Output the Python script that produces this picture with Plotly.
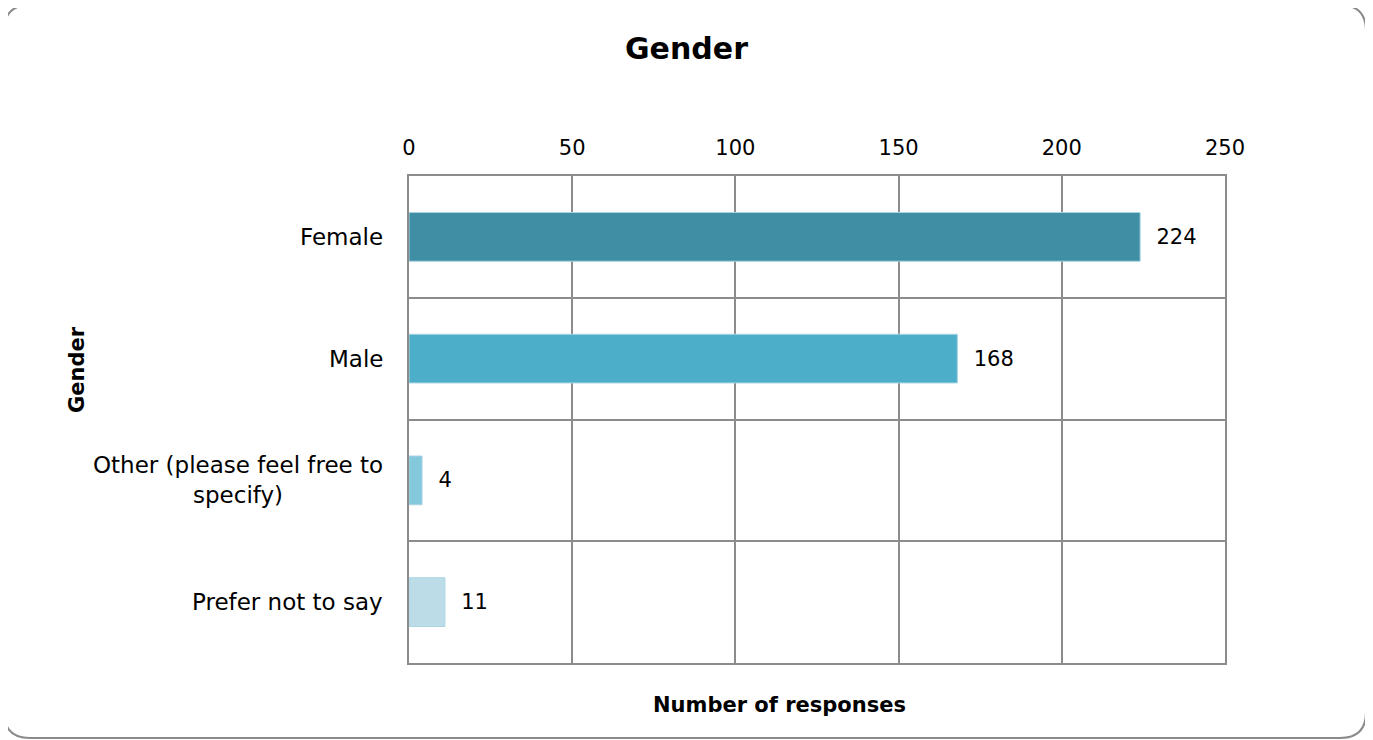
import plotly.graph_objects as go

categories = ["Female", "Male", "Other (please feel free to<br>specify)", "Prefer not to say"]
values = [224, 168, 4, 11]
bar_colors = ["#3F8EA4", "#4DAEC9", "#84C8DC", "#BCDDE8"]
x_ticks = [0, 50, 100, 150, 200, 250]

FONT = "DejaVu Sans"
OFF = 8  # page body margin
W, H = 1373 - OFF, 740 - OFF
# target pixel coordinates (reference screenshot), converted to figure coords
L, R, T, B = 409 - OFF, 1225 - OFF, 176 - OFF, 663 - OFF


def px(xp):
    return (xp - OFF - L) / (R - L)


def py(yp):
    return (B - (yp - OFF)) / (B - T)


fig = go.Figure()
fig.add_trace(go.Bar(
    y=categories, x=values, orientation="h",
    marker=dict(color=bar_colors, line=dict(color="#A8D5E3", width=1)),
    text=["\u00a0\u00a0" + str(v) for v in values],
    textposition="outside", cliponaxis=False,
    textfont=dict(family=FONT, size=21, color="#000000"),
    width=0.4,
))

annotations = []
for c in categories:
    annotations.append(dict(
        x=0, xref="paper", xshift=-24, y=c, yref="y",
        text=c, showarrow=False, xanchor="right", yanchor="middle", align="center",
        font=dict(family=FONT, size=23, color="#000000"),
    ))
annotations.append(dict(
    x=px(77), xref="paper", y=py(370), yref="paper",
    text="<b>Gender</b>", textangle=-90, showarrow=False, xanchor="center", yanchor="middle",
    font=dict(family=FONT, size=21, color="#000000"),
))
annotations.append(dict(
    x=px(779), xref="paper", y=py(705), yref="paper",
    text="<b>Number of responses</b>", showarrow=False, xanchor="center", yanchor="middle",
    font=dict(family=FONT, size=21, color="#000000"),
))
annotations.append(dict(
    x=px(686), xref="paper", y=py(48), yref="paper",
    text="<b>Gender</b>", showarrow=False, xanchor="center", yanchor="middle",
    font=dict(family=FONT, size=30, color="#000000"),
))

x0, x1, y0, y1, r = 4, 1366, 5, 738, 26
path = (
    f"M {px(x0 + r)},{py(y0)} L {px(x1 - r)},{py(y0)} "
    f"Q {px(x1)},{py(y0)} {px(x1)},{py(y0 + r)} "
    f"L {px(x1)},{py(y1 - r)} Q {px(x1)},{py(y1)} {px(x1 - r)},{py(y1)} "
    f"L {px(x0 + r)},{py(y1)} Q {px(x0)},{py(y1)} {px(x0)},{py(y1 - r)} "
    f"L {px(x0)},{py(y0 + r)} Q {px(x0)},{py(y0)} {px(x0 + r)},{py(y0)} Z"
)

fig.update_layout(
    width=W, height=H,
    margin=dict(l=L, r=W - R, t=T, b=H - B, pad=0),
    paper_bgcolor="#FFFFFF", plot_bgcolor="#FFFFFF",
    showlegend=False,
    xaxis=dict(side="top", range=[0, 250], tickvals=x_ticks, showgrid=True,
               gridcolor="#8C8C8C", gridwidth=2, showline=True, linecolor="#8C8C8C",
               linewidth=2, mirror=True, zeroline=False, ticks="", ticklabelstandoff=11,
               tickfont=dict(family=FONT, size=21, color="#000000")),
    yaxis=dict(type="category", autorange="reversed", tickson="boundaries",
               showticklabels=False, showgrid=True, gridcolor="#8C8C8C", gridwidth=2,
               showline=True, linecolor="#8C8C8C", linewidth=2, mirror=True, ticks=""),
    annotations=annotations,
    shapes=[dict(type="path", path=path, xref="paper", yref="paper",
                 line=dict(color="#8A8A8A", width=2), fillcolor="rgba(0,0,0,0)", layer="below")],
)
fig.write_html("out.html")
